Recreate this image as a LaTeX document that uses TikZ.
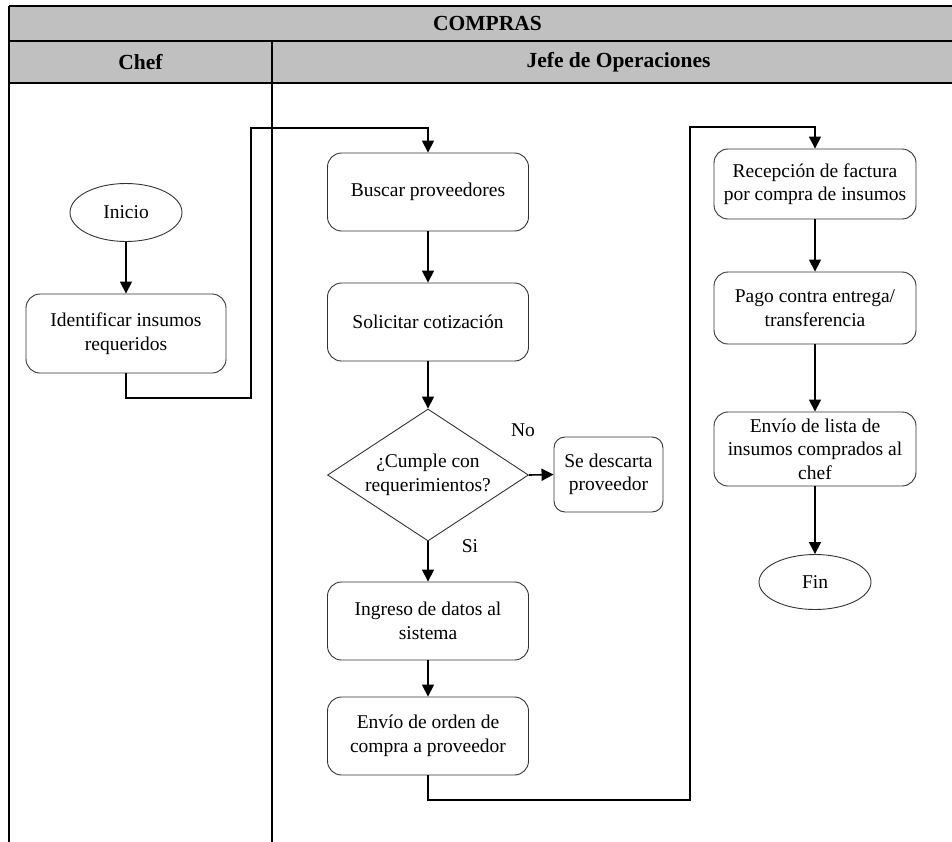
\documentclass[tikz,border=0pt]{standalone}
\usepackage{fontspec}
\setmainfont{Liberation Serif}
\usetikzlibrary{shapes.geometric,arrows.meta}
\definecolor{hdrgray}{HTML}{C0C0C0}
\tikzset{
  proc/.style={draw=black!80, line width=0.9pt, rounded corners=14pt, align=center, inner sep=0pt,
    minimum width=201pt, minimum height=78pt, font=\fontsize{19.5}{23.5}\selectfont},
  term/.style={draw=black!80, line width=0.9pt, ellipse, inner sep=0pt, align=center,
    minimum width=112pt, minimum height=58pt, font=\fontsize{19.5}{23.5}\selectfont},
  decis/.style={draw=black!80, line width=0.9pt, diamond, inner sep=0pt, align=center, aspect=1.52,
    minimum width=201pt, minimum height=132pt, font=\fontsize{19.5}{23.5}\selectfont},
  conn/.style={draw=black, line width=1.6pt, -{Triangle[length=12pt,width=12pt]}},
  frameline/.style={draw=black, line width=1.6pt},
  hdr/.style={font=\fontsize{21.5}{24}\selectfont\bfseries, inner sep=0pt},
  lbl/.style={font=\fontsize{19.5}{23.5}\selectfont, inner sep=0pt}
}
\begin{document}
\begin{tikzpicture}[x=1pt,y=-1pt]
\useasboundingbox (0,0) rectangle (952,841);
\clip (0,0) rectangle (952,841);
% header
\fill[hdrgray] (9,6) rectangle (966,83);
\draw[frameline] (9,6) -- (966,6);
\draw[frameline] (9,41) -- (966,41);
\draw[frameline] (9,83) -- (966,83);
\draw[frameline] (9,6) -- (9,850);
\draw[frameline] (272,41) -- (272,850);
\node[hdr] (title) at (487.5,23.5) {COMPRAS};
\node[hdr] (chef) at (140.5,62) {Chef};
\node[hdr] (jefe) at (618.5,62) {Jefe de Operaciones};
% nodes
\node[term] (inicio) at (126,212.5) {Inicio};
\node[proc, minimum width=200pt, minimum height=79pt] (ident) at (126,333.5) {Identificar insumos\\requeridos};
\node[proc] (buscar) at (428,192) {Buscar proveedores};
\node[proc] (solic) at (428,322) {Solicitar cotizaci\'on};
\node[decis] (cumple) at (428,475) {¿Cumple con\\requerimientos?};
\node[proc, minimum width=109pt, minimum height=75pt, rounded corners=11pt] (descarta) at (608.5,474.5) {Se descarta\\proveedor};
\node[proc] (ingreso) at (428,621) {Ingreso de datos al\\sistema};
\node[proc] (envio) at (428,736) {Envío de orden de\\compra a proveedor};
\node[proc, minimum width=202pt, minimum height=70pt] (recep) at (815,184) {Recepción de factura\\por compra de insumos};
\node[proc, minimum width=202pt, minimum height=72pt] (pago) at (815,308) {Pago contra entrega/\\transferencia};
\node[proc, minimum width=202pt, minimum height=74pt] (lista) at (815,449) {Envío de lista de\\insumos comprados al\\chef};
\node[term, minimum height=55pt] (fin) at (815,582) {Fin};
% labels
\node[lbl] (no) at (523,430) {No};
\node[lbl] (si) at (470,546) {Si};
% bend points
\coordinate (c1) at (251,398);
\coordinate (c2) at (251,128);
\coordinate (c3) at (690,800);
\coordinate (c4) at (690,127);
% connectors
\draw[conn] (inicio.south) -- (ident.north);
\draw[conn] (ident.south) |- (c1) -- (c2) -| (buscar.north);
\draw[conn] (buscar.south) -- (solic.north);
\draw[conn] (solic.south) -- (cumple.north);
\draw[conn] (cumple.east) -- (descarta.west);
\draw[conn] (cumple.south) -- (ingreso.north);
\draw[conn] (ingreso.south) -- (envio.north);
\draw[conn] (envio.south) |- (c3) -- (c4) -| (recep.north);
\draw[conn] (recep.south) -- (pago.north);
\draw[conn] (pago.south) -- (lista.north);
\draw[conn] (lista.south) -- (fin.north);
\end{tikzpicture}
\end{document}
